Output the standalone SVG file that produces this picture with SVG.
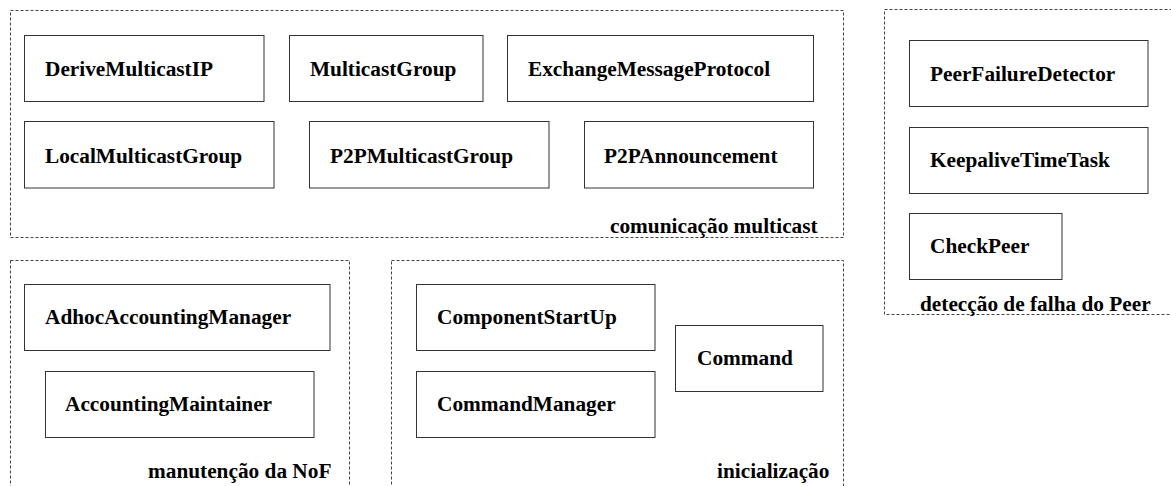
<svg xmlns="http://www.w3.org/2000/svg" width="1171" height="486" viewBox="0 0 1171 486" font-family="'Liberation Serif', 'DejaVu Serif', serif">
<style>
.grp{fill:none;stroke:#444;stroke-width:1;stroke-dasharray:3,2}
.box{fill:#fff;stroke:#333;stroke-width:1}
text{font-family:'Liberation Serif','DejaVu Serif',serif;font-weight:700;font-size:21.3px;fill:#000}
</style>
<rect width="1171" height="486" fill="#fff"/>
<g id="grp-multicast">
<rect class="grp" x="10.5" y="10.5" width="833" height="227"/>
<text x="610" y="233">comunicação multicast</text>
</g>
<g id="grp-peer">
<rect class="grp" x="884.5" y="9.5" width="300" height="305"/>
<text x="920" y="311">detecção de falha do Peer</text>
</g>
<g id="grp-nof">
<rect class="grp" x="10.5" y="260.5" width="339" height="240"/>
<text x="148" y="478">manutenção da NoF</text>
</g>
<g id="grp-init">
<rect class="grp" x="391.5" y="260.5" width="452" height="240"/>
<text x="717" y="478">inicialização</text>
</g>
<g id="n-derive"><rect class="box" x="24.5" y="35.5" width="239.5" height="66"/><text x="45" y="76">DeriveMulticastIP</text></g>
<g id="n-mgroup"><rect class="box" x="289.5" y="35.5" width="193.5" height="66"/><text x="310" y="76">MulticastGroup</text></g>
<g id="n-exchange"><rect class="box" x="507.5" y="35.5" width="306" height="66"/><text x="528" y="76">ExchangeMessageProtocol</text></g>
<g id="n-local"><rect class="box" x="24.5" y="121.5" width="249.5" height="66.5"/><text x="45" y="163">LocalMulticastGroup</text></g>
<g id="n-p2pgroup"><rect class="box" x="309.5" y="121.5" width="239.5" height="66.5"/><text x="330" y="163">P2PMulticastGroup</text></g>
<g id="n-announce"><rect class="box" x="584.5" y="121.5" width="229" height="66.5"/><text x="604" y="163">P2PAnnouncement</text></g>
<g id="n-pfd"><rect class="box" x="909.5" y="40.5" width="238.5" height="66"/><text x="930" y="81">PeerFailureDetector</text></g>
<g id="n-keepalive"><rect class="box" x="909.5" y="127.5" width="238.5" height="66"/><text x="930" y="167">KeepaliveTimeTask</text></g>
<g id="n-checkpeer"><rect class="box" x="909.5" y="213.5" width="152.5" height="66"/><text x="930" y="253">CheckPeer</text></g>
<g id="n-adhoc"><rect class="box" x="24.5" y="284.5" width="305.5" height="66"/><text x="45" y="324">AdhocAccountingManager</text></g>
<g id="n-maint"><rect class="box" x="45.5" y="371.5" width="268.5" height="66"/><text x="65" y="411">AccountingMaintainer</text></g>
<g id="n-startup"><rect class="box" x="416.5" y="284.5" width="238.5" height="66"/><text x="437" y="324">ComponentStartUp</text></g>
<g id="n-cmdmgr"><rect class="box" x="416.5" y="371.5" width="238.5" height="66"/><text x="437" y="411">CommandManager</text></g>
<g id="n-command"><rect class="box" x="675.5" y="325.5" width="147.5" height="66"/><text x="697" y="365">Command</text></g>
<g id="connectors"></g>
</svg>
